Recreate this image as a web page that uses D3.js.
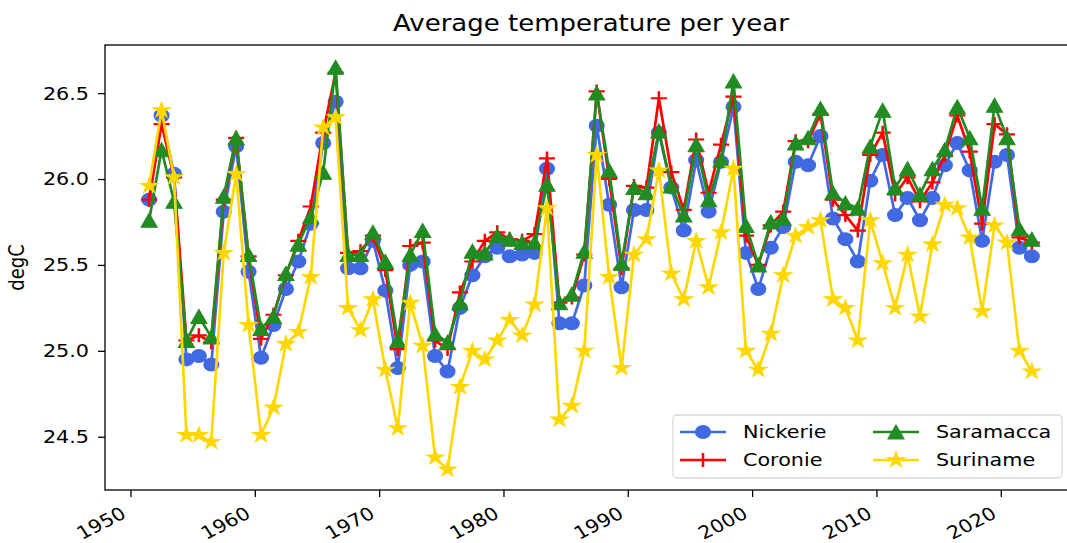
<!DOCTYPE html>
<html>
<head>
<meta charset="utf-8">
<script src="https://cdn.jsdelivr.net/npm/d3@7"></script>
<style>
  body { margin: 0; background: #fff; }
  text { font-family: "DejaVu Sans", sans-serif; fill: #000; }
</style>
</head>
<body>
<script>
const years = [1951,1952,1953,1954,1955,1956,1957,1958,1959,1960,
  1961,1962,1963,1964,1965,1966,1967,1968,1969,1970,
  1971,1972,1973,1974,1975,1976,1977,1978,1979,1980,
  1981,1982,1983,1984,1985,1986,1987,1988,1989,1990,
  1991,1992,1993,1994,1995,1996,1997,1998,1999,2000,
  2001,2002,2003,2004,2005,2006,2007,2008,2009,2010,
  2011,2012,2013,2014,2015,2016,2017,2018,2019,2020,
  2021,2022];

const nickerie = [25.88,26.37,26.03,24.95,24.97,24.92,25.81,26.19,25.46,24.96,
  25.15,25.36,25.52,25.74,26.21,26.45,25.48,25.48,25.64,25.35,
  24.90,25.50,25.52,24.97,24.88,25.25,25.44,25.55,25.60,25.55,
  25.56,25.57,26.06,25.16,25.16,25.38,26.31,25.85,25.37,25.82,
  25.82,26.27,25.95,25.70,26.11,25.81,26.10,26.42,25.57,25.36,
  25.60,25.72,26.10,26.08,26.25,25.77,25.65,25.52,25.99,26.14,
  25.79,25.89,25.76,25.89,26.08,26.21,26.05,25.64,26.10,26.14,
  25.60,25.55];

const coronie = [25.88,26.32,26.01,25.06,25.09,25.05,25.88,26.24,25.55,25.07,
  25.21,25.44,25.64,25.84,26.27,26.62,25.57,25.58,25.67,25.47,
  25.01,25.61,25.63,25.06,25.01,25.34,25.52,25.64,25.69,25.65,
  25.64,25.68,26.12,25.28,25.31,25.56,26.51,26.00,25.48,25.96,
  25.95,26.47,26.04,25.82,26.23,25.92,26.20,26.48,25.67,25.50,
  25.73,25.81,26.22,26.22,26.38,25.88,25.79,25.70,26.14,26.27,
  25.91,26.01,25.87,25.98,26.14,26.37,26.16,25.74,26.32,26.26,
  25.66,25.63];

const saramacca = [25.76,26.17,25.87,25.06,25.20,25.08,25.90,26.24,25.56,25.13,
  25.20,25.45,25.62,25.78,26.04,26.65,25.56,25.56,25.69,25.52,
  25.06,25.56,25.70,25.10,25.05,25.28,25.58,25.57,25.67,25.65,
  25.63,25.63,25.97,25.28,25.33,25.58,26.50,26.05,25.51,25.95,
  25.92,26.28,25.96,25.79,26.20,25.88,26.11,26.57,25.73,25.50,
  25.75,25.77,26.21,26.24,26.41,25.92,25.86,25.83,26.19,26.40,
  25.95,26.06,25.91,26.06,26.17,26.42,26.24,25.83,26.43,26.24,
  25.71,25.65];

const suriname = [25.96,26.40,26.01,24.51,24.51,24.47,25.57,26.03,25.15,24.51,
  24.67,25.04,25.11,25.43,26.30,26.36,25.25,25.12,25.30,24.89,
  24.55,25.28,25.03,24.38,24.31,24.79,25.00,24.95,25.06,25.18,
  25.09,25.27,25.83,24.60,24.68,25.00,26.14,25.43,24.90,25.56,
  25.65,26.05,25.45,25.30,25.64,25.37,25.69,26.06,25.00,24.89,
  25.10,25.44,25.67,25.72,25.76,25.30,25.25,25.06,25.76,25.51,
  25.25,25.56,25.20,25.62,25.85,25.83,25.66,25.23,25.73,25.63,
  25.00,24.88];

const xTicks = [1950,1960,1970,1980,1990,2000,2010,2020];
const yTicks = [24.5,25.0,25.5,26.0,26.5];

const W = 1067, H = 543;
const pLeft = 105, pRight = 1076, pTop = 45, pBottom = 490;
const sx = 1.15; // the reference is stretched a little in x

const svg = d3.select("body").append("svg")
  .attr("width", W).attr("height", H);

const xScale = d3.scaleLinear().domain([1947.95, 2026.05]).range([pLeft, pRight]);
const yScale = d3.scaleLinear().domain([24.19, 26.78]).range([pBottom, pTop]);

svg.append("defs").append("clipPath").attr("id", "plot")
  .append("rect").attr("x", pLeft).attr("y", pTop)
  .attr("width", pRight - pLeft).attr("height", pBottom - pTop);

function label(x, y, txt, size, anchor, rot) {
  const g = svg.append("g")
    .attr("transform", `translate(${x},${y}) scale(${sx},1)` + (rot ? ` rotate(${rot})` : ""));
  return g.append("text").text(txt)
    .attr("font-size", size)
    .attr("text-anchor", anchor);
}

// markers (matplotlib style)
const r = 7;
const circlePath = d3.symbol(d3.symbolCircle, Math.PI * 6.5 * 6.5)();
const triPath = `M0,${-r}L${-r},${r}L${r},${r}Z`;
const plusPath = `M${-r},0H${r}M0,${-r}V${r}`;
const starPath = d3.symbol(d3.symbolStar, 72)();

const series = [
  { name: "Nickerie", values: nickerie, color: "#4169e1", marker: circlePath, fill: true },
  { name: "Coronie", values: coronie, color: "#ff0000", marker: plusPath, fill: false },
  { name: "Saramacca", values: saramacca, color: "#228b22", marker: triPath, fill: true },
  { name: "Suriname", values: suriname, color: "#ffd700", marker: starPath, fill: true }
];

const line = d3.line()
  .x((d, i) => xScale(years[i] + 0.5))
  .y(d => yScale(d));

const plot = svg.append("g").attr("clip-path", "url(#plot)");

series.forEach(s => {
  const g = plot.append("g");
  g.append("path")
    .datum(s.values)
    .attr("d", line)
    .attr("fill", "none")
    .attr("stroke", s.color)
    .attr("stroke-width", 2.7)
    .attr("stroke-linejoin", "round");

  g.selectAll("path.mk")
    .data(s.values)
    .enter()
    .append("path")
    .attr("class", "mk")
    .attr("d", s.marker)
    .attr("transform", (d, i) => `translate(${xScale(years[i] + 0.5)},${yScale(d)}) scale(${sx},1)`)
    .attr("fill", s.fill ? s.color : "none")
    .attr("stroke", s.color)
    .attr("stroke-width", s.fill ? 1 : 2.2);
});

// axes
const xAxis = d3.axisBottom(xScale).tickValues(xTicks).tickSize(7).tickFormat("");
svg.append("g")
  .attr("transform", `translate(0,${pBottom})`)
  .call(xAxis)
  .call(g => g.select(".domain").remove())
  .selectAll("line").attr("stroke", "#000").attr("stroke-width", 1.3);

const yAxis = d3.axisLeft(yScale).tickValues(yTicks).tickSize(7).tickFormat("");
svg.append("g")
  .attr("transform", `translate(${pLeft},0)`)
  .call(yAxis)
  .call(g => g.select(".domain").remove())
  .selectAll("line").attr("stroke", "#000").attr("stroke-width", 1.3);

svg.append("rect")
  .attr("x", pLeft).attr("y", pTop)
  .attr("width", pRight - pLeft).attr("height", pBottom - pTop)
  .attr("fill", "none").attr("stroke", "#000").attr("stroke-width", 1.3);

xTicks.forEach(t => {
  label(xScale(t) - 3, 517, t, 18, "end", -30);
});

yTicks.forEach(t => {
  label(89, yScale(t), t.toFixed(1), 18, "end").attr("dy", "0.36em");
});

label(24, (pTop + pBottom) / 2, "degC", 18, "middle", -90);

label(591, 31, "Average temperature per year", 22.6, "middle");

// legend
const leg = svg.append("g");
leg.append("rect")
  .attr("x", 673).attr("y", 415)
  .attr("width", 389).attr("height", 63)
  .attr("rx", 4)
  .attr("fill", "#fff").attr("fill-opacity", 0.8)
  .attr("stroke", "#d9d9d9").attr("stroke-width", 1.3);

const legPos = [
  { x: 680, y: 432 },
  { x: 680, y: 460 },
  { x: 873, y: 432 },
  { x: 873, y: 460 }
];

series.forEach((s, i) => {
  const p = legPos[i];
  leg.append("line")
    .attr("x1", p.x).attr("x2", p.x + 46)
    .attr("y1", p.y).attr("y2", p.y)
    .attr("stroke", s.color).attr("stroke-width", 2.7);
  leg.append("path")
    .attr("d", s.marker)
    .attr("transform", `translate(${p.x + 23},${p.y}) scale(${sx},1)`)
    .attr("fill", s.fill ? s.color : "none")
    .attr("stroke", s.color)
    .attr("stroke-width", s.fill ? 1 : 2.2);
  label(p.x + 63, p.y, s.name, 18, "start").attr("dy", "0.36em");
});
</script>
</body>
</html>
